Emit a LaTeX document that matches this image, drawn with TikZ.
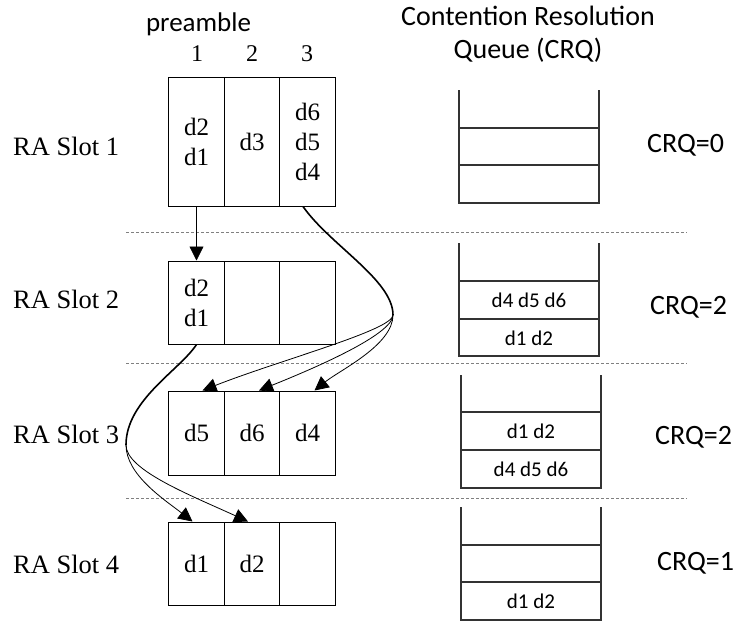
\documentclass[tikz,border=0pt]{standalone}
\usepackage{fontspec}
\setmainfont{Liberation Serif}
\newfontfamily\calib{Carlito}
\usetikzlibrary{arrows.meta}

\begin{document}
\begin{tikzpicture}[x=1pt,y=-1pt,
  cell/.style={draw, line width=1pt, minimum width=55.5pt, inner sep=0pt,
               align=center, font=\fontsize{25}{30}\selectfont},
  slotlabel/.style={anchor=base west, inner sep=0pt, font=\fontsize{26.5}{30}\selectfont},
  colnum/.style={anchor=base, inner sep=0pt, font=\fontsize{24}{28}\selectfont},
  sanslabel/.style={anchor=base, inner sep=0pt, font=\calib\fontsize{28}{32}\selectfont},
  crqlabel/.style={anchor=base west, inner sep=0pt, font=\calib\fontsize{28}{32}\selectfont},
  qtext/.style={inner sep=0pt, font=\calib\fontsize{21}{26}\selectfont},
  queue/.style={line width=1.2pt, draw=black!80},
  sep/.style={draw=black!50, line width=0.7pt, dash pattern=on 3pt off 2pt},
  tip/.style={-{Triangle[length=14pt,width=14pt]}, line width=0.8pt},
  trunk/.style={line width=1.6pt},
]
\useasboundingbox (0,0) rectangle (734,624);

% headings
\node[sanslabel, font=\calib\fontsize{27}{32}\selectfont] (pre) at (198.5,31) {preamble};
\node[colnum] (n1) at (197,61) {1};
\node[colnum] (n2) at (252,61) {2};
\node[colnum] (n3) at (307,61) {3};
\node[sanslabel] (cr1) at (528,25) {Contention Resolution};
\node[sanslabel] (cr2) at (528,58) {Queue (CRQ)};

% slot separators
\draw[sep] (126,232) -- (687,232);
\draw[sep] (126,363) -- (687,363);
\draw[sep] (126,498) -- (687,498);

% slot names
\node[slotlabel] (r1) at (13,155) {RA Slot 1};
\node[slotlabel] (r2) at (13,308) {RA Slot 2};
\node[slotlabel] (r3) at (13,443) {RA Slot 3};
\node[slotlabel] (r4) at (13,573) {RA Slot 4};

% preamble boxes
\node[cell, minimum height=129pt] (a1) at (196.5,141.5) {d2\\d1};
\node[cell, minimum height=129pt] (a2) at (252,141.5) {d3};
\node[cell, minimum height=129pt] (a3) at (307.5,141.5) {d6\\d5\\d4};

\node[cell, minimum height=83pt] (b1) at (196.5,302.5) {d2\\d1};
\node[cell, minimum height=83pt] (b2) at (252,302.5) {};
\node[cell, minimum height=83pt] (b3) at (307.5,302.5) {};

\node[cell, minimum height=84pt] (c1) at (196.5,433) {d5};
\node[cell, minimum height=84pt] (c2) at (252,433) {d6};
\node[cell, minimum height=84pt] (c3) at (307.5,433) {d4};

\node[cell, minimum height=83pt] (e1) at (196.5,563.5) {d1};
\node[cell, minimum height=83pt] (e2) at (252,563.5) {d2};
\node[cell, minimum height=83pt] (e3) at (307.5,563.5) {};

% transfers between slots
\draw[tip] (a1.south) -- (b1.north);

\coordinate (s1) at (393,315);
\draw[trunk] ([xshift=-4.5pt]a3.south) .. controls (330,245) and (393,280) .. (s1);
\draw[tip] (s1) .. controls (393,345) and (340,370) .. ([xshift=7pt]c3.north);
\draw[tip] (s1) .. controls (393,335) and (310,370) .. ([xshift=7pt]c2.north);
\draw[tip] (s1) .. controls (393,330) and (280,360) .. ([xshift=6pt]c1.north);

\coordinate (s2) at (126,445);
\draw[trunk] (b1.south) .. controls (180,370) and (126,400) .. (s2);
\draw[tip] (s2) .. controls (126,475) and (165,500) .. ([xshift=-4pt]e1.north);
\draw[tip] (s2) .. controls (126,470) and (190,495) .. ([xshift=-4pt]e2.north);

% contention resolution queues
\draw[queue] (459,90) -- (459,203) -- (599,203) -- (599,90);
\draw[queue] (459,128) -- (599,128) (459,165) -- (599,165);

\draw[queue] (459,243) -- (459,356) -- (599,356) -- (599,243);
\draw[queue] (459,281) -- (599,281) (459,319) -- (599,319);
\node[qtext] (q2a) at (529,300) {d4 d5 d6};
\node[qtext] (q2b) at (529,338) {d1 d2};

\draw[queue] (461,375) -- (461,488) -- (601,488) -- (601,375);
\draw[queue] (461,412) -- (601,412) (461,450) -- (601,450);
\node[qtext] (q3a) at (531,431) {d1 d2};
\node[qtext] (q3b) at (531,469) {d4 d5 d6};

\draw[queue] (461,507) -- (461,620) -- (601,620) -- (601,507);
\draw[queue] (461,545) -- (601,545) (461,582) -- (601,582);
\node[qtext] (q4a) at (531,601) {d1 d2};

% queue counters
\node[crqlabel] (k1) at (647,152) {CRQ=0};
\node[crqlabel] (k2) at (650,314) {CRQ=2};
\node[crqlabel] (k3) at (655,444) {CRQ=2};
\node[crqlabel] (k4) at (657,570) {CRQ=1};
\end{tikzpicture}
\end{document}
